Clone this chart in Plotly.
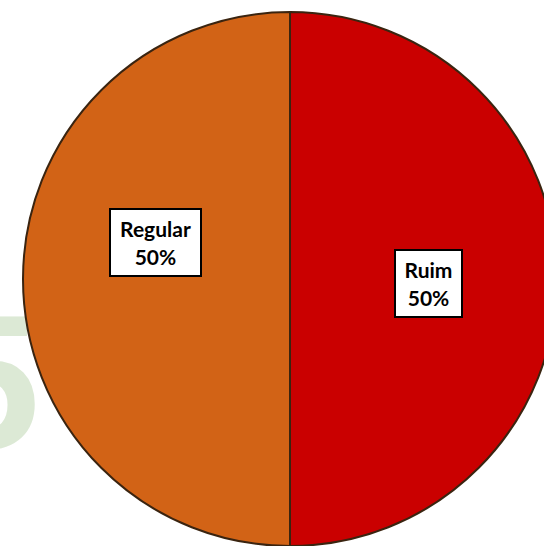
import plotly.graph_objects as go

labels = ["Ruim", "Regular"]
values = [50, 50]
colors = ["#CA0000", "#D26316"]
pct_labels = ["Ruim<br>50%", "Regular<br>50%"]

W, H = 600, 546
cx, cy, r = 290, 279, 267

fig = go.Figure()

# faint watermark "5" behind the pie (right edge anchored at the point)
X0 = 100
fig.add_trace(go.Scatter(
    x=[40 - X0], y=[400], mode="text", text=["<b>5</b>"], textposition="middle left",
    textfont=dict(family="Liberation Sans", size=192, color="#DCE9D5"),
    cliponaxis=False, hoverinfo="skip", showlegend=False,
))

fig.add_trace(go.Pie(
    labels=labels, values=values, sort=False, direction="clockwise", rotation=0,
    marker=dict(colors=colors, line=dict(color="#3A2410", width=2)),
    textinfo="none", hoverinfo="label+percent", showlegend=False,
    domain=dict(x=[(cx - r) / W, (cx + r) / W], y=[(H - cy - r) / H, (H - cy + r) / H]),
))

ann_pos = [(428, 283), (155, 242)]
ann_w = [55, 79]
for (ax_, ay_), t, w in zip(ann_pos, pct_labels, ann_w):
    fig.add_annotation(
        x=ax_ / W, y=1 - ay_ / H, xref="paper", yref="paper", text="<b>" + t + "</b>",
        xanchor="center", yanchor="middle",
        showarrow=False, bgcolor="white", bordercolor="black", borderwidth=2, borderpad=5,
        width=w, height=55,
        font=dict(family="Lato, sans-serif", size=21, color="black"),
    )

fig.update_layout(
    width=W, height=H, margin=dict(l=0, r=0, t=0, b=0),
    paper_bgcolor="white", plot_bgcolor="white",
    xaxis=dict(visible=False, range=[-X0, W - X0], domain=[0, 1]),
    yaxis=dict(visible=False, range=[H, 0], domain=[0, 1]),
)

fig.write_html(
    "out.html",
    config={"displayModeBar": False},
    post_script="document.body.style.margin='0';document.body.style.overflow='hidden';",
)
